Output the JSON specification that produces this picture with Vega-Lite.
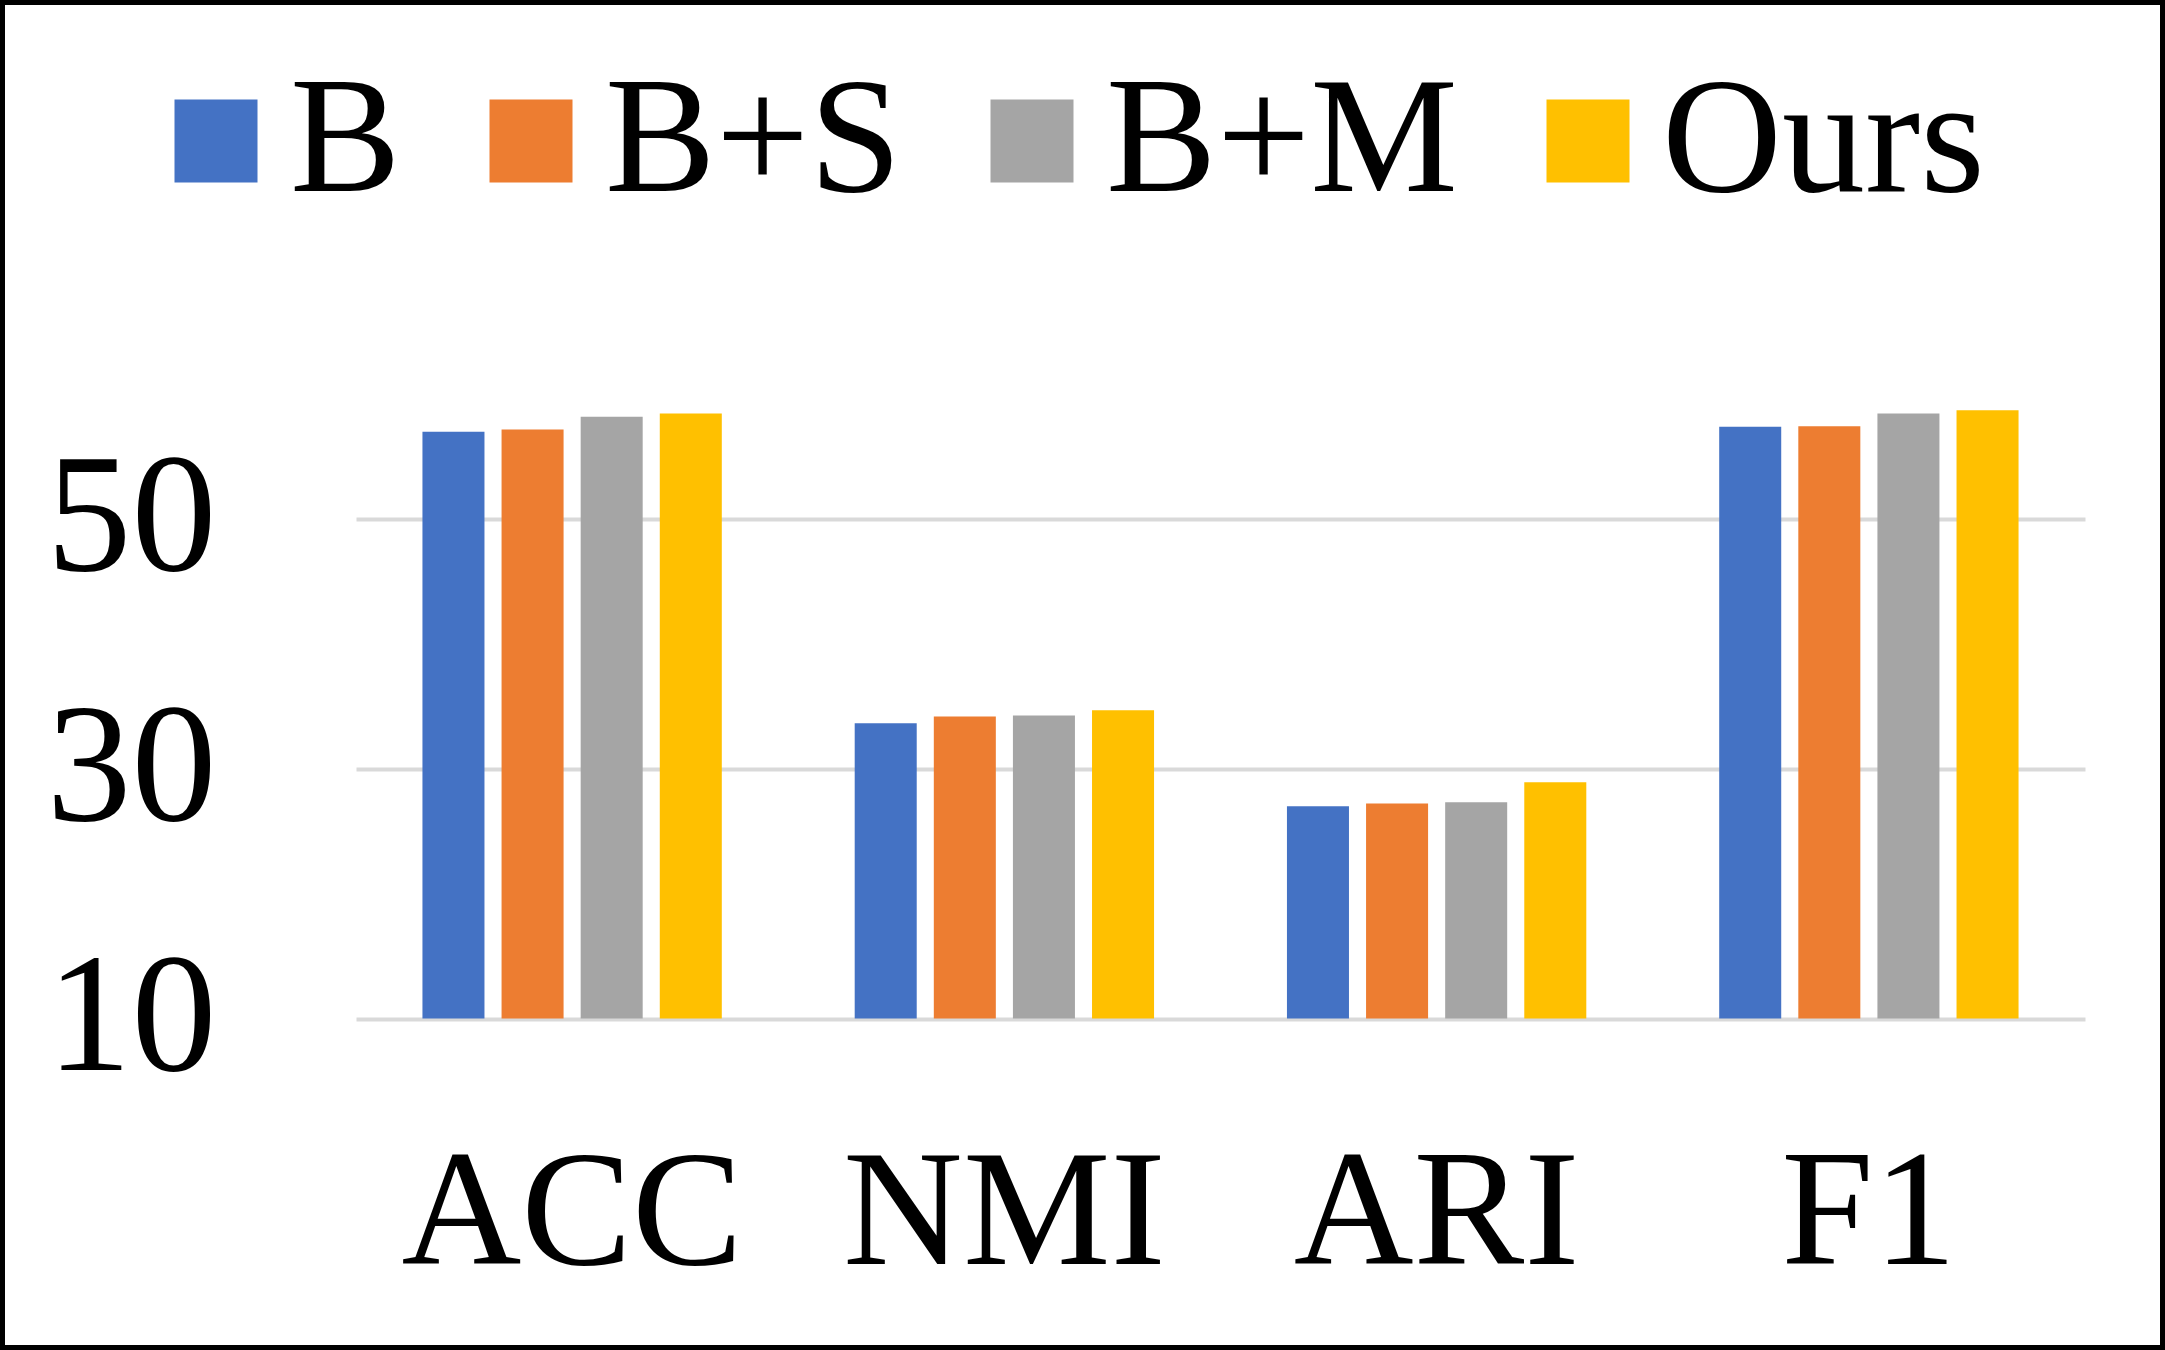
{
  "$schema": "https://vega.github.io/schema/vega-lite/v6.json",
  "width": 2165,
  "height": 1350,
  "padding": 0,
  "autosize": {"type": "none"},
  "background": "white",
  "data": {
    "values": [
      {"metric": "ACC", "method": "B", "value": 56.94},
      {"metric": "ACC", "method": "B+S", "value": 57.12},
      {"metric": "ACC", "method": "B+M", "value": 58.14},
      {"metric": "ACC", "method": "Ours", "value": 58.4},
      {"metric": "NMI", "method": "B", "value": 33.62},
      {"metric": "NMI", "method": "B+S", "value": 34.16},
      {"metric": "NMI", "method": "B+M", "value": 34.24},
      {"metric": "NMI", "method": "Ours", "value": 34.66},
      {"metric": "ARI", "method": "B", "value": 26.98},
      {"metric": "ARI", "method": "B+S", "value": 27.2},
      {"metric": "ARI", "method": "B+M", "value": 27.3},
      {"metric": "ARI", "method": "Ours", "value": 28.9},
      {"metric": "F1", "method": "B", "value": 57.34},
      {"metric": "F1", "method": "B+S", "value": 57.39},
      {"metric": "F1", "method": "B+M", "value": 58.4},
      {"metric": "F1", "method": "Ours", "value": 58.66}
    ]
  },
  "mark": {"type": "bar"},
  "encoding": {
    "x": {
      "field": "metric",
      "type": "nominal",
      "sort": ["ACC", "NMI", "ARI", "F1"],
      "scale": {"range": [356, 2085], "paddingInner": 0, "paddingOuter": 0},
      "axis": {
        "title": null,
        "orient": "bottom",
        "offset": -331,
        "domain": false,
        "ticks": false,
        "tickSize": 0,
        "grid": false,
        "labelAngle": 0,
        "labelFont": "Liberation Serif",
        "labelFontSize": 166,
        "labelColor": "black",
        "labelBaseline": "alphabetic",
        "labelPadding": 244,
        "labelLimit": 0
      }
    },
    "xOffset": {
      "field": "method",
      "type": "nominal",
      "sort": ["B", "B+S", "B+M", "Ours"],
      "scale": {"paddingInner": 0.216, "paddingOuter": 0.84}
    },
    "y": {
      "field": "value",
      "type": "quantitative",
      "scale": {"domain": [-16.52, 91.48], "nice": false, "zero": false},
      "axis": {
        "title": null,
        "orient": "left",
        "offset": -216,
        "values": [10, 30, 50],
        "domain": false,
        "ticks": false,
        "tickSize": 0,
        "labelPadding": 0,
        "labelFont": "Liberation Serif",
        "labelFontSize": 170,
        "labelColor": "black",
        "labelLimit": 0,
        "grid": true,
        "gridColor": "#D9D9D9",
        "gridWidth": 4
      }
    },
    "y2": {"datum": 10},
    "color": {
      "field": "method",
      "type": "nominal",
      "sort": ["B", "B+S", "B+M", "Ours"],
      "scale": {"range": ["#4472C4", "#ED7D31", "#A5A5A5", "#FFC000"]},
      "legend": {
        "title": null,
        "orient": "none",
        "legendX": 133,
        "legendY": 58,
        "direction": "horizontal",
        "symbolType": "square",
        "symbolSize": 6889,
        "symbolStrokeWidth": 0,
        "symbolOpacity": 1,
        "labelFont": "Liberation Serif",
        "labelFontSize": 166,
        "labelColor": "black",
        "labelOffset": -9,
        "labelLimit": 0,
        "columnPadding": 47,
        "padding": 0
      }
    }
  },
  "config": {
    "view": {"stroke": "black", "strokeWidth": 10}
  }
}
